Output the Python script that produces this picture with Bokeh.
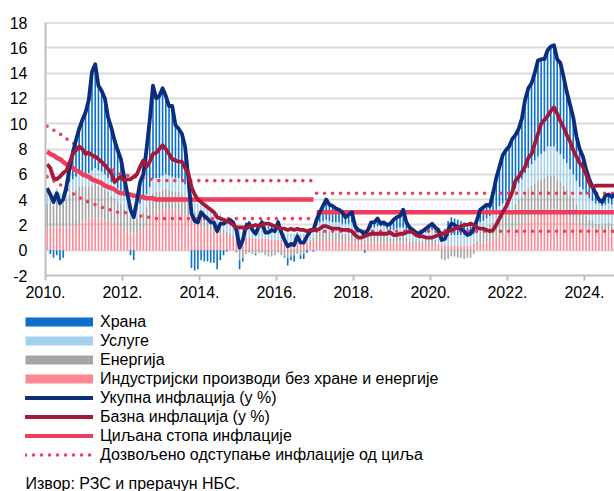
import numpy as np
from bokeh.plotting import figure
from bokeh.models import Range1d, FixedTicker, Span, Legend, LegendItem, Label
from bokeh.layouts import column
from bokeh.embed import file_html
from bokeh.resources import INLINE

# ---------------- data (monthly, Jan 2010 - Oct 2024) ----------------
start_year = 2010
tick_years = [2010, 2012, 2014, 2016, 2018, 2020, 2022, 2024]
tick_labels = ["2010.", "2012.", "2014.", "2016.", "2018.", "2020.", "2022.", "2024."]
y_ticks = [-2, 0, 2, 4, 6, 8, 10, 12, 14, 16, 18]

unit_text = "(у %)"
series_names = ["Храна", "Услуге", "Енергија", "Индустријски производи без хране и енергије",
                "Укупна инфлација (у %)", "Базна инфлација (у %)", "Циљана стопа инфлације",
                "Дозвољено одступање инфлације од циља"]
source_text = "Извор: РЗС и прерачун НБС."

industrial = [
    1.8, 1.8, 1.8, 1.9, 1.9, 1.8, 1.8, 1.9, 1.9, 2.0, 2.1, 2.2,  # 2010
    2.4, 2.5, 2.5, 2.6, 2.5, 2.5, 2.4, 2.3, 2.2, 2.1, 2.0, 1.9,  # 2011
    1.6, 1.5, 1.4, 1.4, 1.4, 1.5, 1.7, 1.9, 2.3, 2.8, 3.0, 3.1,  # 2012
    3.2, 3.3, 3.3, 3.2, 3.2, 3.1, 3.0, 2.9, 2.7, 2.4, 2.2, 2.0,  # 2013
    1.9, 1.8, 1.7, 1.6, 1.5, 1.4, 1.3, 1.2, 1.2, 1.1, 1.1, 1.0,  # 2014
    1.0, 1.0, 1.0, 1.0, 1.0, 0.9, 0.9, 0.9, 0.9, 0.9, 0.8, 0.8,  # 2015
    0.8, 0.8, 0.7, 0.7, 0.6, 0.6, 0.6, 0.6, 0.6, 0.6, 0.7, 0.7,  # 2016
    0.7, 0.8, 0.8, 0.8, 0.8, 0.8, 0.8, 0.8, 0.7, 0.7, 0.7, 0.7,  # 2017
    0.6, 0.6, 0.6, 0.6, 0.6, 0.6, 0.6, 0.6, 0.6, 0.6, 0.6, 0.6,  # 2018
    0.6, 0.6, 0.6, 0.6, 0.6, 0.5, 0.5, 0.5, 0.5, 0.5, 0.5, 0.5,  # 2019
    0.5, 0.5, 0.5, 0.4, 0.4, 0.4, 0.4, 0.4, 0.4, 0.4, 0.4, 0.4,  # 2020
    0.4, 0.5, 0.5, 0.6, 0.6, 0.7, 0.8, 0.9, 1.0, 1.1, 1.2, 1.3,  # 2021
    1.5, 1.6, 1.8, 2.0, 2.1, 2.3, 2.5, 2.6, 2.7, 2.8, 2.9, 3.0,  # 2022
    3.1, 3.1, 3.2, 3.1, 3.0, 2.9, 2.8, 2.6, 2.4, 2.2, 2.0, 1.9,  # 2023
    1.8, 1.7, 1.7, 1.6, 1.6, 1.5, 1.5, 1.5, 1.5, 1.5,            # 2024
]

energy = [
    1.9, 2.0, 1.7, 2.1, 1.7, 1.9, 2.2, 2.5, 2.7, 2.8, 2.9, 2.9,
    2.6, 2.5, 2.6, 2.7, 2.6, 2.5, 2.4, 2.3, 2.1, 2.0, 1.9, 1.8,
    1.7, 1.5, 1.2, 1.0, 1.1, 1.2, 1.3, 1.5, 1.6, 1.7, 1.6, 1.5,
    1.6, 1.6, 1.5, 1.5, 1.4, 1.5, 1.4, 1.3, 1.2, 1.0, 0.8, 0.8,
    0.9, 0.8, 0.7, 0.6, 0.7, 0.6, 0.6, 0.4, 0.3, 0.2, 0.1, -0.2,
    -0.8, -0.6, -0.3, -0.2, -0.3, -0.3, -0.2, -0.2, -0.4, -0.5, -0.5, -0.4,
    -0.2, -0.4, -0.5, -0.6, -0.5, -0.4, -0.3, -0.4, -0.3, 0.0, 0.1, 0.3,
    0.6, 0.7, 0.7, 0.8, 0.7, 0.6, 0.6, 0.6, 0.6, 0.6, 0.6, 0.7,
    0.4, 0.3, 0.3, 0.2, 0.4, 0.6, 0.6, 0.7, 0.7, 0.7, 0.5, 0.4,
    0.4, 0.5, 0.6, 0.6, 0.4, 0.2, 0.2, 0.2, 0.2, 0.2, 0.3, 0.4,
    0.5, 0.3, 0.0, -0.7, -0.8, -0.7, -0.5, -0.5, -0.6, -0.6, -0.7, -0.6,
    -0.6, -0.3, 0.2, 0.9, 1.0, 1.1, 1.2, 1.3, 1.4, 1.5, 1.6, 1.6,
    1.5, 1.6, 1.9, 2.0, 2.1, 2.3, 2.4, 2.5, 2.6, 2.7, 2.7, 2.7,
    2.8, 2.8, 2.7, 2.5, 2.4, 2.2, 2.0, 1.8, 1.7, 1.4, 1.2, 1.1,
    0.9, 0.7, 0.6, 0.5, 0.5, 0.5, 0.6, 0.7, 0.6, 0.6,
]

services = [
    0.9, 0.9, 0.9, 0.9, 0.9, 0.9, 1.0, 1.0, 1.0, 1.0, 1.1, 1.1,
    1.1, 1.1, 1.2, 1.2, 1.2, 1.2, 1.2, 1.1, 1.1, 1.1, 1.0, 1.0,
    1.0, 1.0, 1.0, 1.0, 1.0, 1.0, 1.0, 1.0, 1.1, 1.1, 1.1, 1.1,
    1.1, 1.1, 1.1, 1.1, 1.1, 1.1, 1.0, 1.0, 1.0, 0.9, 0.9, 0.9,
    1.0, 1.0, 1.0, 1.0, 1.0, 1.0, 1.0, 0.9, 0.9, 0.9, 0.8, 0.8,
    0.7, 0.7, 0.8, 0.8, 0.8, 0.8, 0.8, 0.8, 0.8, 0.8, 0.8, 0.8,
    0.8, 0.7, 0.7, 0.7, 0.7, 0.7, 0.7, 0.7, 0.7, 0.7, 0.7, 0.7,
    0.7, 0.7, 0.8, 0.8, 0.8, 0.8, 0.8, 0.8, 0.8, 0.8, 0.8, 0.8,
    0.6, 0.6, 0.6, 0.6, 0.6, 0.6, 0.6, 0.6, 0.6, 0.6, 0.6, 0.6,
    0.6, 0.6, 0.6, 0.6, 0.6, 0.6, 0.6, 0.6, 0.6, 0.6, 0.6, 0.6,
    0.6, 0.6, 0.6, 0.6, 0.7, 0.7, 0.8, 0.8, 0.8, 0.8, 0.8, 0.8,
    0.8, 0.8, 0.7, 0.7, 0.7, 0.7, 0.7, 0.8, 0.8, 0.9, 0.9, 1.0,
    1.0, 1.1, 1.2, 1.3, 1.4, 1.5, 1.6, 1.7, 1.8, 1.9, 2.0, 2.1,
    2.3, 2.3, 2.3, 2.2, 2.2, 2.1, 2.1, 2.0, 1.9, 1.9, 1.8, 1.8,
    1.7, 1.7, 1.6, 1.6, 1.6, 1.5, 1.5, 1.5, 1.5, 1.5,
]

food = [
    0.3, -0.3, -0.6, -0.4, -0.8, -0.6, 0.0, 1.1, 2.1, 2.9, 3.5, 4.1,
    4.8, 5.8, 7.8, 8.2, 6.7, 6.4, 6.0, 4.8, 4.3, 3.5, 3.0, 2.5,
    1.5, 0.5, -0.4, -0.8, 0.4, 1.7, 2.0, 3.6, 5.3, 7.4, 6.3, 6.5,
    6.9, 6.2, 5.5, 5.6, 4.2, 3.9, 3.8, 3.0, 0.9, -1.4, -1.6, -1.5,
    -0.8, -0.9, -0.9, -1.0, -1.0, -1.5, -0.8, -0.4, -0.1, 0.2, 0.2, 0.0,
    -0.7, -0.3, 0.4, 0.5, 0.1, -0.1, 0.4, 0.7, 0.1, 0.2, 0.5, 0.3,
    0.8, 0.3, -0.1, -0.6, -0.3, -0.5, 0.1, -0.3, -0.4, -0.2, 0.0, -0.1,
    0.4, 0.8, 1.2, 1.6, 1.3, 1.3, 1.1, 1.0, 0.9, 0.5, 0.7, 0.8,
    0.3, 0.1, 0.0, -0.2, 0.0, 0.4, 0.4, 0.6, 0.2, 0.3, 0.3, 0.5,
    0.8, 0.9, 0.9, 1.4, 0.6, 0.5, 0.3, 0.1, 0.0, 0.2, 0.3, 0.4,
    0.5, 0.4, 0.5, 0.5, 0.6, 1.2, 1.4, 1.3, 1.2, 1.1, 1.0, 0.6,
    0.7, 0.7, 1.0, 1.0, 1.1, 1.1, 0.8, 1.5, 2.5, 3.1, 3.8, 4.0,
    4.2, 4.5, 4.2, 4.3, 4.8, 5.8, 6.3, 6.4, 6.9, 7.6, 7.5, 7.3,
    7.6, 7.9, 8.0, 7.3, 7.2, 6.5, 5.6, 5.1, 4.5, 3.5, 3.0, 2.6,
    2.0, 1.5, 1.1, 0.8, 0.3, 0.3, 0.7, 0.7, 0.6, 0.8,
]

headline = [
    4.9, 4.4, 3.8, 4.5, 3.7, 4.0, 5.0, 6.5, 7.7, 8.7, 9.6, 10.3,
    10.9, 11.9, 14.1, 14.7, 13.0, 12.6, 12.0, 10.5, 9.7, 8.7, 7.9, 7.2,
    5.8, 4.5, 3.2, 2.6, 3.9, 5.4, 6.0, 8.0, 10.3, 13.0, 12.0, 12.2,
    12.8, 12.2, 11.4, 11.4, 9.9, 9.6, 9.2, 8.2, 5.8, 2.9, 2.3, 2.2,
    3.0, 2.7, 2.5, 2.2, 2.2, 1.5, 2.1, 2.1, 2.3, 2.4, 2.2, 1.6,
    0.2, 0.8, 1.9, 2.1, 1.6, 1.3, 1.9, 2.2, 1.4, 1.4, 1.6, 1.5,
    2.2, 1.4, 0.8, 0.3, 0.5, 0.4, 1.1, 0.6, 0.6, 1.1, 1.5, 1.6,
    2.4, 3.0, 3.5, 4.0, 3.6, 3.5, 3.3, 3.2, 3.0, 2.6, 2.8, 3.0,
    1.9, 1.6, 1.5, 1.2, 1.6, 2.2, 2.2, 2.5, 2.1, 2.2, 2.0, 2.1,
    2.4, 2.6, 2.7, 3.2, 2.2, 1.8, 1.6, 1.4, 1.3, 1.5, 1.7, 1.9,
    2.1, 1.8, 1.6, 0.8, 0.9, 1.6, 2.1, 2.0, 1.8, 1.7, 1.5, 1.2,
    1.3, 1.7, 2.4, 3.2, 3.4, 3.6, 3.5, 4.5, 5.7, 6.6, 7.5, 7.9,
    8.2, 8.8, 9.1, 9.6, 10.4, 11.9, 12.8, 13.2, 14.0, 15.0, 15.1, 15.1,
    15.8, 16.1, 16.2, 15.1, 14.8, 13.7, 12.5, 11.5, 10.5, 9.0, 8.0, 7.4,
    6.4, 5.6, 5.0, 4.5, 4.0, 3.8, 4.3, 4.4, 4.2, 4.4,
]

core = [
    6.8, 6.5, 5.7, 5.6, 5.8, 6.1, 6.3, 6.9, 7.6, 7.9, 8.2, 8.0,
    7.6, 7.7, 7.5, 7.4, 7.2, 7.0, 6.7, 6.4, 6.1, 5.4, 5.6, 5.8,
    5.5, 5.6, 5.6, 5.8, 6.0, 6.6, 7.1, 6.6, 7.0, 7.6, 7.7, 8.0,
    8.3, 8.0, 7.6, 7.2, 7.1, 7.0, 7.0, 6.5, 6.1, 5.0, 4.4, 4.0,
    3.8, 3.6, 3.4, 3.2, 3.0, 2.6, 2.5, 2.4, 2.3, 2.2, 2.0, 1.8,
    1.8, 1.8, 1.7, 1.9, 1.9, 2.0, 1.9, 2.0, 2.1, 2.1, 2.0, 1.9,
    1.8, 1.7, 1.7, 1.6, 1.7, 1.6, 1.7, 1.6, 1.6, 1.5, 1.6, 1.6,
    1.6, 1.7, 1.9, 1.9, 1.8, 1.7, 1.7, 1.7, 1.6, 1.6, 1.6, 1.5,
    1.2, 1.0, 1.0, 1.1, 1.2, 1.3, 1.3, 1.3, 1.3, 1.3, 1.3, 1.4,
    1.2, 1.2, 1.3, 1.3, 1.4, 1.5, 1.4, 1.2, 1.1, 1.1, 1.0, 1.0,
    1.0, 1.1, 1.2, 1.3, 1.3, 1.5, 1.6, 1.7, 1.8, 1.9, 2.0, 2.0,
    2.1, 2.0, 1.8, 1.7, 1.7, 1.6, 1.5, 1.6, 2.0, 2.5, 3.0, 3.4,
    4.0, 4.6, 5.5, 5.8, 6.2, 6.6, 7.3, 7.6, 8.4, 9.2, 10.0, 10.3,
    10.6, 11.0, 11.3, 10.8, 10.2, 9.7, 9.1, 8.6, 7.9, 7.4, 6.9, 6.6,
    6.0, 5.3, 5.0, 5.1, 5.1, 5.1, 5.1, 5.1, 5.1, 5.1,
]

target = [
    7.8, 7.6, 7.5, 7.3, 7.2, 7.0, 6.8, 6.7, 6.5, 6.3, 6.2, 6.0,
    5.9, 5.8, 5.6, 5.5, 5.4, 5.3, 5.1, 5.0, 4.9, 4.8, 4.6, 4.5,
    4.5, 4.4, 4.4, 4.3, 4.3, 4.2, 4.2, 4.1, 4.1, 4.1, 4.0, 4.0,
    4.0, 4.0, 4.0, 4.0, 4.0, 4.0, 4.0, 4.0, 4.0, 4.0, 4.0, 4.0,
    4.0, 4.0, 4.0, 4.0, 4.0, 4.0, 4.0, 4.0, 4.0, 4.0, 4.0, 4.0,
    4.0, 4.0, 4.0, 4.0, 4.0, 4.0, 4.0, 4.0, 4.0, 4.0, 4.0, 4.0,
    4.0, 4.0, 4.0, 4.0, 4.0, 4.0, 4.0, 4.0, 4.0, 4.0, 4.0, 4.0,
    3.0, 3.0, 3.0, 3.0, 3.0, 3.0, 3.0, 3.0, 3.0, 3.0, 3.0, 3.0,
    3.0, 3.0, 3.0, 3.0, 3.0, 3.0, 3.0, 3.0, 3.0, 3.0, 3.0, 3.0,
    3.0, 3.0, 3.0, 3.0, 3.0, 3.0, 3.0, 3.0, 3.0, 3.0, 3.0, 3.0,
    3.0, 3.0, 3.0, 3.0, 3.0, 3.0, 3.0, 3.0, 3.0, 3.0, 3.0, 3.0,
    3.0, 3.0, 3.0, 3.0, 3.0, 3.0, 3.0, 3.0, 3.0, 3.0, 3.0, 3.0,
    3.0, 3.0, 3.0, 3.0, 3.0, 3.0, 3.0, 3.0, 3.0, 3.0, 3.0, 3.0,
    3.0, 3.0, 3.0, 3.0, 3.0, 3.0, 3.0, 3.0, 3.0, 3.0, 3.0, 3.0,
    3.0, 3.0, 3.0, 3.0, 3.0, 3.0, 3.0, 3.0, 3.0, 3.0,
]

tol_upper = [
    9.8, 9.6, 9.5, 9.3, 9.2, 9.0, 8.8, 8.7, 8.5, 8.3, 8.2, 8.0,
    7.8, 7.6, 7.4, 7.3, 7.1, 6.9, 6.8, 6.6, 6.4, 6.3, 6.1, 6.0,
    6.0, 5.9, 5.9, 5.8, 5.8, 5.7, 5.7, 5.6, 5.6, 5.6, 5.5, 5.5,
    5.5, 5.5, 5.5, 5.5, 5.5, 5.5, 5.5, 5.5, 5.5, 5.5, 5.5, 5.5,
    5.5, 5.5, 5.5, 5.5, 5.5, 5.5, 5.5, 5.5, 5.5, 5.5, 5.5, 5.5,
    5.5, 5.5, 5.5, 5.5, 5.5, 5.5, 5.5, 5.5, 5.5, 5.5, 5.5, 5.5,
    5.5, 5.5, 5.5, 5.5, 5.5, 5.5, 5.5, 5.5, 5.5, 5.5, 5.5, 5.5,
    4.5, 4.5, 4.5, 4.5, 4.5, 4.5, 4.5, 4.5, 4.5, 4.5, 4.5, 4.5,
    4.5, 4.5, 4.5, 4.5, 4.5, 4.5, 4.5, 4.5, 4.5, 4.5, 4.5, 4.5,
    4.5, 4.5, 4.5, 4.5, 4.5, 4.5, 4.5, 4.5, 4.5, 4.5, 4.5, 4.5,
    4.5, 4.5, 4.5, 4.5, 4.5, 4.5, 4.5, 4.5, 4.5, 4.5, 4.5, 4.5,
    4.5, 4.5, 4.5, 4.5, 4.5, 4.5, 4.5, 4.5, 4.5, 4.5, 4.5, 4.5,
    4.5, 4.5, 4.5, 4.5, 4.5, 4.5, 4.5, 4.5, 4.5, 4.5, 4.5, 4.5,
    4.5, 4.5, 4.5, 4.5, 4.5, 4.5, 4.5, 4.5, 4.5, 4.5, 4.5, 4.5,
    4.5, 4.5, 4.5, 4.5, 4.5, 4.5, 4.5, 4.5, 4.5, 4.5,
]

tol_lower = [
    5.8, 5.6, 5.5, 5.3, 5.2, 5.0, 4.8, 4.7, 4.5, 4.3, 4.2, 4.0,
    3.9, 3.8, 3.7, 3.6, 3.5, 3.4, 3.3, 3.2, 3.2, 3.1, 3.0, 3.0,
    3.0, 2.9, 2.9, 2.8, 2.8, 2.7, 2.7, 2.6, 2.6, 2.6, 2.5, 2.5,
    2.5, 2.5, 2.5, 2.5, 2.5, 2.5, 2.5, 2.5, 2.5, 2.5, 2.5, 2.5,
    2.5, 2.5, 2.5, 2.5, 2.5, 2.5, 2.5, 2.5, 2.5, 2.5, 2.5, 2.5,
    2.5, 2.5, 2.5, 2.5, 2.5, 2.5, 2.5, 2.5, 2.5, 2.5, 2.5, 2.5,
    2.5, 2.5, 2.5, 2.5, 2.5, 2.5, 2.5, 2.5, 2.5, 2.5, 2.5, 2.5,
    1.5, 1.5, 1.5, 1.5, 1.5, 1.5, 1.5, 1.5, 1.5, 1.5, 1.5, 1.5,
    1.5, 1.5, 1.5, 1.5, 1.5, 1.5, 1.5, 1.5, 1.5, 1.5, 1.5, 1.5,
    1.5, 1.5, 1.5, 1.5, 1.5, 1.5, 1.5, 1.5, 1.5, 1.5, 1.5, 1.5,
    1.5, 1.5, 1.5, 1.5, 1.5, 1.5, 1.5, 1.5, 1.5, 1.5, 1.5, 1.5,
    1.5, 1.5, 1.5, 1.5, 1.5, 1.5, 1.5, 1.5, 1.5, 1.5, 1.5, 1.5,
    1.5, 1.5, 1.5, 1.5, 1.5, 1.5, 1.5, 1.5, 1.5, 1.5, 1.5, 1.5,
    1.5, 1.5, 1.5, 1.5, 1.5, 1.5, 1.5, 1.5, 1.5, 1.5, 1.5, 1.5,
    1.5, 1.5, 1.5, 1.5, 1.5, 1.5, 1.5, 1.5, 1.5, 1.5,
]

regime_change_year = 2017  # target / band regime break

# ---------------- styling ----------------
FONT = "Liberation Sans"
C_FOOD = "#0a70cc"
C_SERV = "#a3d0ef"
C_ENER = "#a5a5a5"
C_IND = "#ff8793"
C_HEAD = "#0c2d7c"
C_CORE = "#a3193a"
C_TARGET = "#ef3d5d"
C_TOL = "#ef3d5d"

n = len(headline)
x = np.array([start_year + (i + 0.5) / 12 for i in range(n)])
brk = int(np.searchsorted(x, regime_change_year))

X0, X1 = 2010.0, 2024.78
p = figure(width=614, height=308, x_range=Range1d(X0, X1), y_range=Range1d(-2, 18),
           output_backend="svg", toolbar_location=None,
           min_border_left=45, min_border_right=0, min_border_top=22, min_border_bottom=33,
           outline_line_color=None, background_fill_color="white", border_fill_color="white")
p.frame_align = False

# stacked contribution bars
pos = np.zeros(n)
neg = np.zeros(n)
bar_w = 0.5 / 12
for vals, color in [(industrial, C_IND), (energy, C_ENER), (services, C_SERV), (food, C_FOOD)]:
    v = np.array(vals)
    bottom = np.where(v >= 0, pos, neg)
    top = bottom + v
    pos = np.where(v >= 0, top, pos)
    neg = np.where(v < 0, top, neg)
    p.vbar(x=x, width=bar_w, bottom=bottom, top=top, fill_color=color, line_color=None)

# target & tolerance band (two regimes)
for a, b in [(0, brk), (brk, n)]:
    p.line(x[a:b], target[a:b], line_color=C_TARGET, line_width=4.5)
    p.line(x[a:b], tol_upper[a:b], line_color=C_TOL, line_width=3.6, line_dash="0 8", line_cap="round")
    p.line(x[a:b], tol_lower[a:b], line_color=C_TOL, line_width=3.6, line_dash="0 8", line_cap="round")

p.line(x, headline, line_color=C_HEAD, line_width=3.8, line_join="round")
p.line(x, core, line_color=C_CORE, line_width=3.8, line_join="round")

p.add_layout(Span(location=18, dimension="width", line_color="#bfbfbf", line_width=2))

# unit label, mostly above the visible area as in the original
px_per_year = 569 / (X1 - X0)
px_per_unit = 253 / 20
p.add_layout(Label(x=X0 - 32 / px_per_year, y=18 + 23 / px_per_unit, text=unit_text,
                   text_baseline="alphabetic", text_font=FONT, text_font_size="16px",
                   text_color="#000000"))

# axes & grid
p.xgrid.visible = False
p.ygrid.ticker = FixedTicker(ticks=y_ticks)
p.ygrid.grid_line_color = "#dcdcdc"
p.ygrid.grid_line_width = 2

p.xaxis.ticker = FixedTicker(ticks=tick_years)
p.xaxis.major_label_overrides = {yr: lab for yr, lab in zip(tick_years, tick_labels)}
p.yaxis.ticker = FixedTicker(ticks=y_ticks)
p.yaxis.major_label_overrides = {t: str(t) for t in y_ticks}
for ax in (p.xaxis, p.yaxis):
    ax.axis_line_color = "#bfbfbf"
    ax.axis_line_width = 2
    ax.minor_tick_line_color = None
    ax.major_label_text_font = FONT
    ax.major_label_text_font_size = "16px"
    ax.major_label_text_color = "#000000"
p.xaxis.major_tick_line_color = "#bfbfbf"
p.xaxis.major_tick_line_width = 2
p.xaxis.major_tick_out = 5
p.xaxis.major_tick_in = 0
p.xaxis.major_label_standoff = 5
p.yaxis.major_tick_line_color = None
p.yaxis.major_label_standoff = 12

# ---------------- legend panel ----------------
leg = figure(width=614, height=183, x_range=Range1d(0, 1), y_range=Range1d(0, 1),
             output_backend="svg", toolbar_location=None, x_axis_type=None, y_axis_type=None,
             min_border=0, min_border_left=0, min_border_right=0, min_border_top=0,
             min_border_bottom=0, outline_line_color=None)
leg.frame_align = False
leg.xgrid.visible = False
leg.ygrid.visible = False
dx, dy = [-10, -9], [-10, -10]
r_food = leg.line(dx, dy, line_color=C_FOOD, line_width=9, line_cap="butt")
r_serv = leg.line(dx, dy, line_color=C_SERV, line_width=9, line_cap="butt")
r_ener = leg.line(dx, dy, line_color=C_ENER, line_width=9, line_cap="butt")
r_ind = leg.line(dx, dy, line_color=C_IND, line_width=9, line_cap="butt")
r_head = leg.line(dx, dy, line_color=C_HEAD, line_width=3.8, line_cap="round")
r_core = leg.line(dx, dy, line_color=C_CORE, line_width=3.8, line_cap="round")
r_tgt = leg.line(dx, dy, line_color=C_TARGET, line_width=3.8, line_cap="round")
r_tol = leg.line(dx, dy, line_color=C_TOL, line_width=3.6, line_dash="0 8", line_cap="round")
rends = [r_food, r_serv, r_ener, r_ind, r_head, r_core, r_tgt, r_tol]

legend = Legend(items=[LegendItem(label=nm, renderers=[r]) for nm, r in zip(series_names, rends)],
                location=(25, 27), orientation="vertical",
                glyph_width=68, glyph_height=19, label_height=19, spacing=0,
                padding=0, margin=0, label_standoff=7,
                border_line_color=None, background_fill_alpha=0,
                label_text_font=FONT, label_text_font_size="16px", label_text_color="#000000")
leg.add_layout(legend)
leg.add_layout(Label(x=25, y=8, x_units="screen", y_units="screen", text=source_text,
                     text_baseline="middle", text_font=FONT, text_font_size="16px",
                     text_color="#000000"))

layout = column(p, leg, spacing=0)
open("out.html", "w").write(file_html(layout, INLINE))
